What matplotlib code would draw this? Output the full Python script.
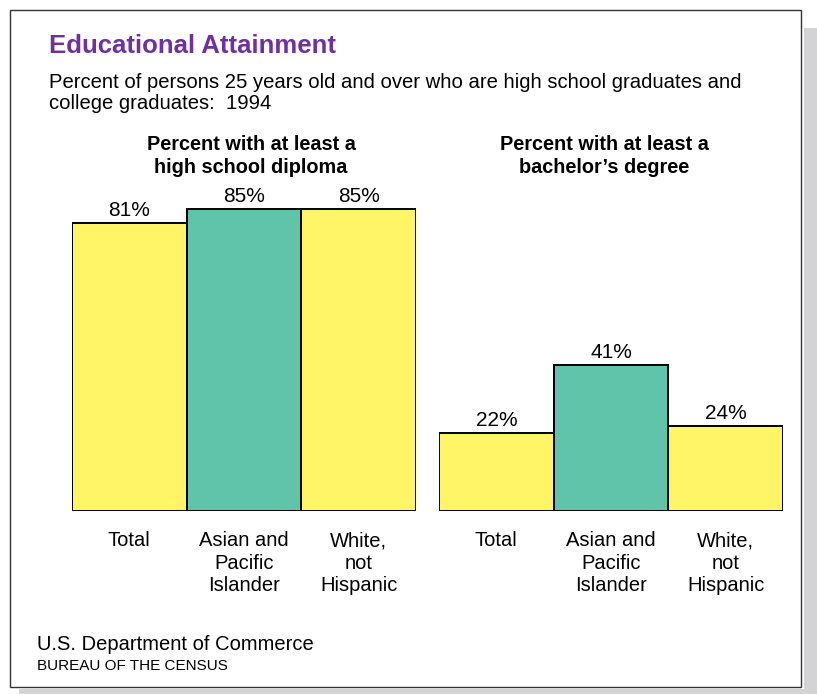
import matplotlib.pyplot as plt
from matplotlib.patches import Rectangle

plt.rcParams['font.family'] = ['Liberation Sans', 'DejaVu Sans']

# Data
categories = ['Total', 'Asian and\nPacific\nIslander', 'White,\nnot\nHispanic']
highschool = [81, 85, 85]
bachelor = [22, 41, 24]
bar_colors = ['#FFF566', '#60C4AB', '#FFF566']

W, H = 817, 694

def fx(px):
    return px / W

def fy(py):
    return 1 - py / H

fig = plt.figure(figsize=(W / 100, H / 100), dpi=100)

# Shadow and panel
fig.patches.append(Rectangle((fx(804), fy(694)), fx(817) - fx(804), fy(28) - fy(694),
                             transform=fig.transFigure, facecolor='#D3D3D5', edgecolor='none', zorder=0))
fig.patches.append(Rectangle((fx(19), fy(694)), fx(817) - fx(19), fy(689) - fy(694),
                             transform=fig.transFigure, facecolor='#D3D3D5', edgecolor='none', zorder=0))
fig.patches.append(Rectangle((fx(10), fy(687)), fx(801) - fx(10), fy(10) - fy(687),
                             transform=fig.transFigure, facecolor='white', edgecolor='#333333',
                             linewidth=1.0, zorder=1))

# Title and subtitle
fig.text(fx(49), fy(53), 'Educational Attainment', color='#7030A0', fontsize=18.5,
         fontweight='bold', va='baseline', ha='left', zorder=3)
fig.text(fx(49), fy(88), 'Percent of persons 25 years old and over who are high school graduates and',
         fontsize=14.6, va='baseline', ha='left', zorder=3)
fig.text(fx(49), fy(109), 'college graduates:  1994', fontsize=14.6, va='baseline', ha='left', zorder=3)

# Panel headings (baseline of last line)
fig.text(fx(251), fy(173), 'Percent with at least a\nhigh school diploma', fontsize=14.3,
         fontweight='bold', va='baseline', ha='center', linespacing=1.3, zorder=3)
fig.text(fx(604), fy(173), 'Percent with at least a\nbachelor\u2019s degree', fontsize=14.3,
         fontweight='bold', va='baseline', ha='center', linespacing=1.3, zorder=3)

# Bars: 3.555 px per percent, baseline at y=511
scale = 3.555
top = 511 - 100 * scale
panels = [(72, 416, highschool), (439, 783, bachelor)]
for x0, x1, vals in panels:
    ax = fig.add_axes([fx(x0), fy(511), fx(x1) - fx(x0), fy(top) - fy(511)])
    ax.set_zorder(2)
    ax.patch.set_visible(False)
    ax.set_xlim(-0.5, 2.5)
    ax.set_ylim(0, 100)
    ax.axis('off')
    ax.bar(range(3), vals, width=1.0, color=bar_colors, edgecolor='black', linewidth=1.4)
    for i, v in enumerate(vals):
        ax.annotate('%d%%' % v, xy=(i, v), xytext=(0, 5), textcoords='offset points',
                    ha='center', va='baseline', fontsize=15)
        nlines = categories[i].count('\n')
        off = -(35 + 22.5 * nlines) * 0.72
        ax.annotate(categories[i], xy=(i, 0), xytext=(0, off), textcoords='offset points',
                    ha='center', va='baseline', fontsize=14.5, linespacing=1.22,
                    annotation_clip=False)

# Footer
fig.text(fx(37), fy(650), 'U.S. Department of Commerce', fontsize=14.5, va='baseline', ha='left', zorder=3)
fig.text(fx(37), fy(670.5), 'BUREAU OF THE CENSUS', fontsize=11, va='baseline', ha='left', zorder=3)

fig.savefig('out.png', dpi=100)
